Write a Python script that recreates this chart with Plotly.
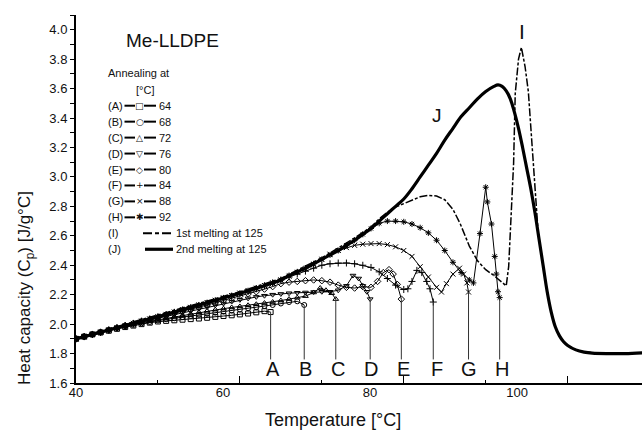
import plotly.graph_objects as go

# ---------------- data ----------------
T_A = [40, 41, 42, 43, 44, 45, 46, 47, 48, 49, 50, 51, 52, 53, 54, 55, 56, 57, 58, 59, 60, 61, 62, 63, 63.75]
Cp_A = [1.900, 1.915, 1.930, 1.943, 1.955, 1.968, 1.980, 1.990, 2.000, 2.010, 2.018, 2.022, 2.026, 2.030, 2.034,
        2.038, 2.043, 2.049, 2.055, 2.060, 2.066, 2.072, 2.080, 2.088, 2.082]

T_B = [40, 41, 42, 43, 44, 45, 46, 47, 48, 49, 50, 51, 52, 53, 54, 55, 56, 57, 58, 59, 60, 61, 62, 63, 64, 65, 66, 67, 67.85]
Cp_B = [1.900, 1.915, 1.930, 1.945, 1.960, 1.973, 1.985, 1.995, 2.005, 2.015, 2.025, 2.033, 2.040, 2.048, 2.055,
        2.063, 2.070, 2.078, 2.085, 2.093, 2.100, 2.108, 2.115, 2.123, 2.130, 2.140, 2.150, 2.155, 2.130]

T_C = [40, 41, 42, 43, 44, 45, 46, 47, 48, 49, 50, 51, 52, 53, 54, 55, 56, 57, 58, 59, 60, 61, 62, 63, 64, 65, 66, 67,
       68, 69, 69.8, 70.5, 71.2, 71.7]
Cp_C = [1.900, 1.915, 1.930, 1.945, 1.960, 1.975, 1.990, 2.000, 2.010, 2.020, 2.030, 2.040, 2.050, 2.060, 2.070,
        2.080, 2.090, 2.098, 2.105, 2.113, 2.120, 2.128, 2.135, 2.143, 2.150, 2.160, 2.170, 2.180, 2.190, 2.215,
        2.245, 2.230, 2.210, 2.170]

T_D = [40, 41, 42, 43, 44, 45, 46, 47, 48, 49, 50, 51, 52, 53, 54, 55, 56, 57, 58, 59, 60, 61, 62, 63, 64, 65, 66, 67,
       68, 69, 70, 71, 72, 73, 73.8, 74.5, 75, 75.5, 75.9]
Cp_D = [1.900, 1.915, 1.930, 1.945, 1.960, 1.975, 1.990, 2.003, 2.015, 2.028, 2.040, 2.053, 2.065, 2.078, 2.090,
        2.103, 2.115, 2.128, 2.140, 2.153, 2.165, 2.175, 2.185, 2.193, 2.200, 2.205, 2.210, 2.213, 2.215, 2.218,
        2.220, 2.220, 2.230, 2.260, 2.330, 2.310, 2.260, 2.220, 2.170]

T_E = [40, 41, 42, 43, 44, 45, 46, 47, 48, 49, 50, 51, 52, 53, 54, 55, 56, 57, 58, 59, 60, 61, 62, 63, 64, 65, 66, 67,
       68, 69, 70, 71, 72, 73, 74, 75, 76, 76.8, 77.5, 78.2, 78.7, 79.2, 79.7]
Cp_E = [1.900, 1.915, 1.930, 1.945, 1.960, 1.975, 1.990, 2.005, 2.020, 2.033, 2.045, 2.060, 2.075, 2.088, 2.100,
        2.115, 2.130, 2.145, 2.160, 2.175, 2.190, 2.205, 2.220, 2.238, 2.255, 2.275, 2.285, 2.290, 2.295, 2.300,
        2.295, 2.285, 2.265, 2.250, 2.245, 2.255, 2.250, 2.290, 2.350, 2.370, 2.340, 2.270, 2.170]

T_F = [40, 41, 42, 43, 44, 45, 46, 47, 48, 49, 50, 51, 52, 53, 54, 55, 56, 57, 58, 59, 60, 61, 62, 63, 64, 65, 66, 67,
       68, 69, 70, 71, 72, 73, 74, 75, 76, 77, 78, 79, 80, 80.5, 81, 81.6, 82.2, 82.8, 83.2, 83.6]
Cp_F = [1.900, 1.915, 1.930, 1.945, 1.960, 1.975, 1.990, 2.005, 2.020, 2.035, 2.050, 2.065, 2.080, 2.095, 2.110,
        2.125, 2.140, 2.155, 2.170, 2.185, 2.200, 2.220, 2.240, 2.260, 2.280, 2.300, 2.320, 2.340, 2.360, 2.380,
        2.400, 2.410, 2.415, 2.415, 2.410, 2.400, 2.385, 2.355, 2.310, 2.265, 2.235, 2.240, 2.290, 2.365, 2.350,
        2.290, 2.240, 2.150]

T_G = [40, 41, 42, 43, 44, 45, 46, 47, 48, 49, 50, 51, 52, 53, 54, 55, 56, 57, 58, 59, 60, 61, 62, 63, 64, 65, 66, 67,
       68, 69, 70, 71, 72, 73, 74, 75, 76, 77, 78, 79, 80, 81, 82, 83, 84, 84.6, 85.2, 86, 86.8, 87.3, 87.7, 87.9]
Cp_G = [1.900, 1.915, 1.930, 1.945, 1.960, 1.975, 1.990, 2.005, 2.020, 2.035, 2.050, 2.066, 2.082, 2.098, 2.114,
        2.130, 2.146, 2.162, 2.178, 2.194, 2.210, 2.227, 2.244, 2.262, 2.280, 2.300, 2.325, 2.350, 2.375, 2.405,
        2.440, 2.475, 2.500, 2.520, 2.535, 2.543, 2.547, 2.547, 2.540, 2.525, 2.500, 2.460, 2.390, 2.320, 2.250,
        2.218, 2.275, 2.340, 2.380, 2.340, 2.280, 2.218]

T_H = [40, 41, 42, 43, 44, 45, 46, 47, 48, 49, 50, 51, 52, 53, 54, 55, 56, 57, 58, 59, 60, 61, 62, 63, 64, 65, 66, 67,
       68, 69, 70, 71, 72, 73, 74, 75, 76, 77, 78, 79, 80, 81, 82, 83, 84, 85, 86, 87, 88, 88.5, 89.3, 90, 90.2,
       90.7, 91.1, 91.3, 91.5, 91.7]
Cp_H = [1.900, 1.915, 1.930, 1.945, 1.960, 1.975, 1.990, 2.005, 2.020, 2.035, 2.050, 2.066, 2.082, 2.098, 2.114,
        2.130, 2.146, 2.162, 2.178, 2.194, 2.210, 2.227, 2.244, 2.262, 2.280, 2.300, 2.330, 2.355, 2.380, 2.410,
        2.440, 2.470, 2.500, 2.535, 2.570, 2.610, 2.650, 2.685, 2.700, 2.700, 2.695, 2.680, 2.655, 2.620, 2.570,
        2.500, 2.420, 2.350, 2.300, 2.280, 2.615, 2.930, 2.830, 2.680, 2.460, 2.340, 2.220, 2.180]

T_I = [40, 45, 50, 55, 60, 65, 70, 74, 76, 77, 78, 79, 80, 81, 82, 83, 84, 85, 86, 86.9, 88, 89, 90, 91, 92,
       92.5, 92.8, 93.1, 93.4, 93.6, 94.0, 94.35, 94.8, 95.2, 95.8, 96.4, 97, 97.5, 98, 98.5, 99, 99.5, 100,
       101, 102, 105, 109.1]
Cp_I = [1.905, 1.985, 2.060, 2.140, 2.220, 2.310, 2.450, 2.585, 2.660, 2.715, 2.760, 2.795, 2.820, 2.845, 2.865,
        2.875, 2.870, 2.845, 2.780, 2.680, 2.530, 2.430, 2.370, 2.330, 2.280, 2.260, 2.390, 2.750, 3.090, 3.565,
        3.800, 3.880, 3.750, 3.580, 3.070, 2.620, 2.400, 2.220, 2.080, 1.980, 1.920, 1.880, 1.855, 1.825, 1.810,
        1.800, 1.805]

T_J = [40, 42, 44, 46, 48, 50, 52, 54, 56, 58, 60, 62, 64, 65, 66, 67, 68, 69, 70, 71, 72, 73, 74, 75, 76, 77, 78,
       79, 80, 81, 82, 83, 84, 85, 86, 87, 88, 89, 90, 91, 91.5, 92, 92.5, 93, 93.5, 94, 94.5, 95, 95.5, 96, 96.5,
       97, 97.5, 98, 98.5, 99, 99.5, 100, 101, 102, 103, 105, 107, 109.1]
Cp_J = [1.900, 1.930, 1.960, 1.990, 2.020, 2.050, 2.082, 2.114, 2.146, 2.178, 2.210, 2.244, 2.280, 2.300, 2.330,
        2.355, 2.380, 2.410, 2.440, 2.470, 2.500, 2.535, 2.570, 2.610, 2.650, 2.700, 2.750, 2.800, 2.850, 2.920,
        3.000, 3.080, 3.160, 3.250, 3.330, 3.410, 3.470, 3.530, 3.580, 3.615, 3.625, 3.615, 3.585, 3.530, 3.440,
        3.330, 3.200, 3.060, 2.920, 2.760, 2.580, 2.400, 2.220, 2.080, 1.980, 1.920, 1.880, 1.855, 1.825, 1.810,
        1.803, 1.800, 1.800, 1.805]

letters = ["A", "B", "C", "D", "E", "F", "G", "H"]
anneal_T = [64, 68, 72, 76, 80, 84, 88, 92]
symbols = ["square-open", "circle-open", "triangle-up-open", "triangle-down-open",
           "diamond-open", "cross-thin-open", "x-thin-open", "asterisk-open"]
glyphs = ["□", "○", "△", "▽", "◇", "+", "×", "✱"]
legend_keys = ["(A)", "(B)", "(C)", "(D)", "(E)", "(F)", "(G)", "(H)", "(I)", "(J)"]
legend_texts = ["64", "68", "72", "76", "80", "84", "88", "92", "1st melting at 125", "2nd melting at 125"]

x_tick_labels = [40, 60, 80, 100]
y_ticks = [1.6, 1.8, 2.0, 2.2, 2.4, 2.6, 2.8, 3.0, 3.2, 3.4, 3.6, 3.8, 4.0]

curves_T = [T_A, T_B, T_C, T_D, T_E, T_F, T_G, T_H]
curves_Cp = [Cp_A, Cp_B, Cp_C, Cp_D, Cp_E, Cp_F, Cp_G, Cp_H]

FONT = "Liberation Sans, Arial, sans-serif"
W, H = 642, 440
ML, MR, MT, MB = 76, 0, 15, 57
PW, PH = W - ML - MR, H - MT - MB


def xp(px):
    return (px - ML) / PW


def yp(py):
    return (H - MB - py) / PH


fig = go.Figure()

for T, Cp, sym in zip(curves_T, curves_Cp, symbols):
    fig.add_trace(go.Scatter(
        x=T, y=Cp, mode="lines+markers",
        line=dict(color="black", width=1),
        marker=dict(symbol=sym, size=5, color="black", line=dict(color="black", width=1)),
        hoverinfo="skip"))

fig.add_trace(go.Scatter(x=T_I, y=Cp_I, mode="lines",
                         line=dict(color="black", width=1.5, dash="8px,2px,3px,2px"), hoverinfo="skip"))
fig.add_trace(go.Scatter(x=T_J, y=Cp_J, mode="lines", line_shape="spline",
                         line=dict(color="black", width=3.2), hoverinfo="skip"))
# empty trace so that the tick-label axis is rendered
fig.add_trace(go.Scatter(x=[], y=[], xaxis="x2", yaxis="y", hoverinfo="skip"))

shapes = []
annotations = []

# vertical marker lines and letters A-H
for T, Cp, let, ta in zip(curves_T, curves_Cp, letters, anneal_T):
    shapes.append(dict(type="line", xref="x", yref="y", x0=T[-1], x1=T[-1], y0=1.76, y1=Cp[-1],
                       line=dict(color="#333", width=1)))
    annotations.append(dict(x=ta, y=1.695, xref="x", yref="y", text=let, showarrow=False,
                            font=dict(family=FONT, size=20, color="#111"), xanchor="center", yanchor="middle"))

annotations.append(dict(x=84.05, y=3.42, xref="x", yref="y", text="J", showarrow=False,
                        font=dict(family=FONT, size=19, color="#111")))
annotations.append(dict(x=94.4, y=3.99, xref="x", yref="y", text="I", showarrow=False,
                        font=dict(family=FONT, size=21, color="#111")))

# title & legend block
annotations.append(dict(x=xp(124), y=yp(40.7), xref="paper", yref="paper", text="Me-LLDPE", showarrow=False,
                        xanchor="left", yanchor="middle", font=dict(family=FONT, size=19, color="#111")))
annotations.append(dict(x=xp(105.5), y=yp(73.3), xref="paper", yref="paper", text="Annealing at",
                        showarrow=False, xanchor="left", yanchor="middle",
                        font=dict(family=FONT, size=11, color="#111")))
annotations.append(dict(x=xp(145), y=yp(90), xref="paper", yref="paper", text="[°C]",
                        showarrow=False, xanchor="center", yanchor="middle",
                        font=dict(family=FONT, size=11, color="#111")))

for i, (key, txt) in enumerate(zip(legend_keys, legend_texts)):
    py = 105.7 + 15.95 * i
    annotations.append(dict(x=xp(105.5), y=yp(py), xref="paper", yref="paper", text=key, showarrow=False,
                            xanchor="left", yanchor="middle", font=dict(family=FONT, size=11, color="#111")))
    if i < 8:
        shapes.append(dict(type="line", xref="paper", yref="paper", x0=xp(124.5), x1=xp(135),
                           y0=yp(py), y1=yp(py), line=dict(color="black", width=2)))
        shapes.append(dict(type="line", xref="paper", yref="paper", x0=xp(144), x1=xp(156),
                           y0=yp(py), y1=yp(py), line=dict(color="black", width=2)))
        annotations.append(dict(x=xp(139.5), y=yp(py), xref="paper", yref="paper", text=glyphs[i],
                                showarrow=False, xanchor="center", yanchor="middle",
                                font=dict(family="DejaVu Sans", size=9, color="#111")))
        annotations.append(dict(x=xp(156.5), y=yp(py), xref="paper", yref="paper", text=txt, showarrow=False,
                                xanchor="left", yanchor="middle", font=dict(family=FONT, size=11, color="#111")))
    else:
        if i == 8:
            shapes.append(dict(type="line", xref="paper", yref="paper", x0=xp(143), x1=xp(173),
                               y0=yp(py), y1=yp(py), line=dict(color="black", width=2, dash="9px,3px,4px,3px")))
        else:
            shapes.append(dict(type="line", xref="paper", yref="paper", x0=xp(145), x1=xp(173),
                               y0=yp(py), y1=yp(py), line=dict(color="black", width=3.2)))
        annotations.append(dict(x=xp(174), y=yp(py), xref="paper", yref="paper", text=txt, showarrow=False,
                                xanchor="left", yanchor="middle", font=dict(family=FONT, size=11, color="#111")))

# axis titles
annotations.append(dict(x=xp(333), y=yp(420), xref="paper", yref="paper", text="Temperature [°C]",
                        showarrow=False, xanchor="center", yanchor="middle",
                        font=dict(family=FONT, size=18, color="#111")))
annotations.append(dict(x=xp(26), y=yp(288), xref="paper", yref="paper",
                        text="Heat capacity (C<sub>p</sub>) [J/g°C]", textangle=-90,
                        showarrow=False, xanchor="center", yanchor="middle",
                        font=dict(family=FONT, size=17, color="#111")))

fig.update_layout(
    width=W, height=H,
    margin=dict(l=ML, r=MR, t=MT, b=MB),
    paper_bgcolor="white", plot_bgcolor="white",
    showlegend=False,
    shapes=shapes, annotations=annotations,
    xaxis=dict(range=[40, 109.07], showgrid=False, zeroline=False, showline=True, linecolor="black",
               linewidth=2, ticks="inside", tickvals=[60, 80, 100], ticklen=7, tickwidth=1.2,
               tickcolor="black", showticklabels=False,
               minor=dict(tickvals=[50, 70, 90], ticks="inside", ticklen=3, tickwidth=1.2, tickcolor="black")),
    xaxis2=dict(range=[40, 117.0], overlaying="x", anchor="y", side="bottom", showgrid=False,
                zeroline=False, showline=False, ticks="", tickvals=x_tick_labels,
                tickfont=dict(family=FONT, size=13, color="#111")),
    yaxis=dict(range=[1.6, 4.1], showgrid=False, zeroline=False, showline=True, linecolor="black",
               linewidth=2, ticks="outside", tickvals=y_ticks, ticktext=[f"{v:.1f}" for v in y_ticks],
               ticklen=4, tickwidth=1.2, tickcolor="black",
               tickfont=dict(family=FONT, size=13, color="#111"),
               minor=dict(dtick=0.1, tick0=1.6, ticks="outside", ticklen=4, tickwidth=1.2, tickcolor="black")),
)

fig.write_html("out.html")
